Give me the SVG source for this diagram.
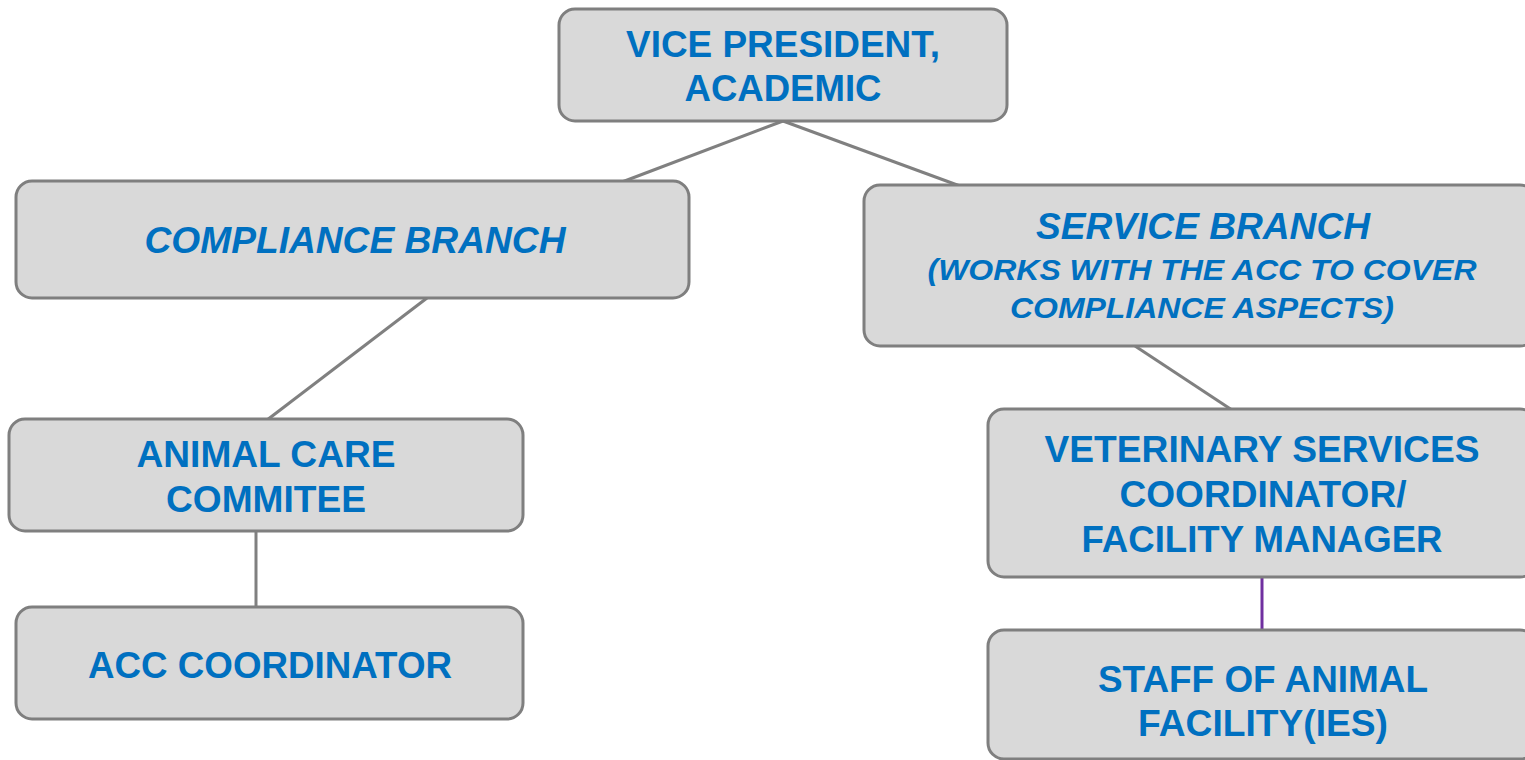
<svg xmlns="http://www.w3.org/2000/svg" width="1525" height="760" viewBox="0 0 1525 760">
<style>
.box{fill:#d9d9d9;stroke:#7f7f7f;stroke-width:3}
.t{font-family:"Liberation Sans",Arial,sans-serif;font-weight:bold;fill:#0070c0;text-anchor:middle;font-size:37px}
.i{font-style:italic}
.s{font-size:30px}
.c{stroke:#808080;stroke-width:3;fill:none}
.p{stroke:#7030a0;stroke-width:3;fill:none}
</style>
<rect width="1525" height="760" fill="#ffffff"/>
<g id="connectors">
<line class="c" x1="783" y1="121" x2="622" y2="182"/>
<line class="c" x1="783" y1="121" x2="960" y2="186"/>
<line class="c" x1="427" y1="298" x2="267" y2="420"/>
<line class="c" x1="1135" y1="346" x2="1232" y2="410"/>
<line class="c" x1="256" y1="531" x2="256" y2="608"/>
<line class="p" x1="1262" y1="577" x2="1262" y2="631"/>
</g>
<g id="vp">
<rect class="box" x="559" y="9" width="448" height="112" rx="16"/>
<text class="t" x="783" y="57" textLength="314" lengthAdjust="spacingAndGlyphs">VICE PRESIDENT,</text>
<text class="t" x="783" y="101" textLength="197" lengthAdjust="spacingAndGlyphs">ACADEMIC</text>
</g>
<g id="compliance">
<rect class="box" x="16" y="181" width="673" height="117" rx="16"/>
<text class="t i" x="355" y="253" textLength="421" lengthAdjust="spacingAndGlyphs">COMPLIANCE BRANCH</text>
</g>
<g id="service">
<rect class="box" x="864" y="185" width="672" height="161" rx="16"/>
<text class="t i" x="1203" y="239" textLength="334" lengthAdjust="spacingAndGlyphs">SERVICE BRANCH</text>
<text class="t i s" x="1202" y="280" textLength="549" lengthAdjust="spacingAndGlyphs">(WORKS WITH THE ACC TO COVER</text>
<text class="t i s" x="1202" y="318" textLength="384" lengthAdjust="spacingAndGlyphs">COMPLIANCE ASPECTS)</text>
</g>
<g id="acc">
<rect class="box" x="9" y="419" width="514" height="112" rx="16"/>
<text class="t" x="266" y="467" textLength="259" lengthAdjust="spacingAndGlyphs">ANIMAL CARE</text>
<text class="t" x="266" y="512" textLength="200" lengthAdjust="spacingAndGlyphs">COMMITEE</text>
</g>
<g id="acc-coordinator">
<rect class="box" x="16" y="607" width="507" height="112" rx="16"/>
<text class="t" x="270" y="678" textLength="364" lengthAdjust="spacingAndGlyphs">ACC COORDINATOR</text>
</g>
<g id="vet">
<rect class="box" x="988" y="409" width="548" height="168" rx="16"/>
<text class="t" x="1262" y="462" textLength="435" lengthAdjust="spacingAndGlyphs">VETERINARY SERVICES</text>
<text class="t" x="1263" y="507" textLength="287" lengthAdjust="spacingAndGlyphs">COORDINATOR/</text>
<text class="t" x="1262" y="552" textLength="361" lengthAdjust="spacingAndGlyphs">FACILITY MANAGER</text>
</g>
<g id="staff">
<rect class="box" x="988" y="630" width="548" height="129" rx="16"/>
<text class="t" x="1263" y="692" textLength="330" lengthAdjust="spacingAndGlyphs">STAFF OF ANIMAL</text>
<text class="t" x="1263" y="736" textLength="250" lengthAdjust="spacingAndGlyphs">FACILITY(IES)</text>
</g>
</svg>
